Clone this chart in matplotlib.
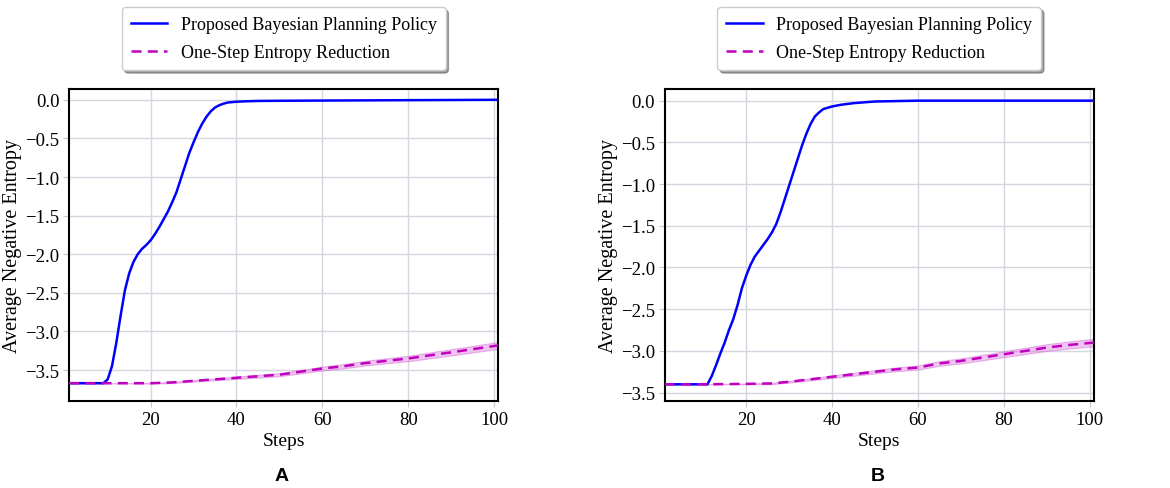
import numpy as np
import matplotlib.pyplot as plt

plt.rcParams['font.family'] = ['Liberation Serif', 'DejaVu Serif']

# Panel A data
a_blue_steps = [1, 9, 10, 11, 12, 13, 14, 15, 16, 17, 18, 19, 20, 21, 22, 23, 24, 25, 26, 27,
                28, 29, 30, 31, 32, 33, 34, 35, 36, 37, 38, 40, 42, 45, 50, 60, 80, 101]
a_blue_vals = [-3.67, -3.67, -3.62, -3.45, -3.15, -2.80, -2.47, -2.25, -2.10, -2.00, -1.93, -1.88,
               -1.82, -1.74, -1.65, -1.55, -1.45, -1.33, -1.20, -1.03, -0.86, -0.69, -0.55, -0.42,
               -0.31, -0.22, -0.15, -0.10, -0.07, -0.05, -0.035, -0.025, -0.02, -0.015, -0.013,
               -0.01, -0.005, 0.0]
a_pink_steps = [1, 10, 20, 25, 30, 35, 40, 45, 50, 55, 60, 65, 70, 75, 80, 85, 90, 95, 101]
a_pink_vals = [-3.67, -3.67, -3.67, -3.66, -3.64, -3.62, -3.60, -3.58, -3.56, -3.52, -3.48,
               -3.45, -3.41, -3.38, -3.35, -3.31, -3.27, -3.23, -3.18]
a_pink_err = [0.0, 0.0, 0.005, 0.008, 0.01, 0.012, 0.015, 0.018, 0.02, 0.022, 0.025, 0.028,
              0.03, 0.032, 0.035, 0.038, 0.04, 0.042, 0.045]

# Panel B data
b_blue_steps = [1, 11, 12, 13, 14, 15, 16, 17, 18, 19, 20, 21, 22, 23, 24, 25, 26, 27, 28, 29,
                30, 31, 32, 33, 34, 35, 36, 37, 38, 40, 42, 45, 50, 60, 101]
b_blue_vals = [-3.40, -3.40, -3.30, -3.17, -3.03, -2.90, -2.75, -2.62, -2.45, -2.25, -2.10,
               -1.97, -1.87, -1.80, -1.73, -1.66, -1.58, -1.48, -1.34, -1.18, -1.02, -0.86,
               -0.70, -0.54, -0.40, -0.28, -0.19, -0.14, -0.10, -0.07, -0.05, -0.03, -0.01,
               0.0, 0.0]
b_pink_steps = [1, 10, 20, 26, 30, 35, 40, 45, 50, 55, 60, 65, 70, 75, 80, 85, 90, 95, 101]
b_pink_vals = [-3.40, -3.40, -3.395, -3.39, -3.37, -3.34, -3.31, -3.28, -3.25, -3.22, -3.20,
               -3.15, -3.12, -3.08, -3.04, -3.00, -2.96, -2.93, -2.90]
b_pink_err = [0.0, 0.0, 0.005, 0.008, 0.01, 0.012, 0.015, 0.018, 0.02, 0.022, 0.025, 0.028,
              0.03, 0.032, 0.035, 0.038, 0.04, 0.042, 0.045]

labels = ['Proposed Bayesian Planning Policy', 'One-Step Entropy Reduction']
panel_names = ['A', 'B']
ylims = [(-3.90, 0.14), (-3.60, 0.14)]
y_ticks = [-3.5, -3.0, -2.5, -2.0, -1.5, -1.0, -0.5, 0.0]
x_ticks = [20, 40, 60, 80, 100]

fig = plt.figure(figsize=(11.7, 4.89), dpi=100)
ax_a = fig.add_axes([0.059, 0.178, 0.367, 0.638])
ax_b = fig.add_axes([0.568, 0.178, 0.367, 0.638])

panels = [
    (ax_a, a_blue_steps, a_blue_vals, a_pink_steps, a_pink_vals, a_pink_err),
    (ax_b, b_blue_steps, b_blue_vals, b_pink_steps, b_pink_vals, b_pink_err),
]

for i, (ax, bs, bv, ps, pv, pe) in enumerate(panels):
    pv = np.array(pv)
    pe = np.array(pe)
    ax.fill_between(ps, pv - pe, pv + pe, color='#e080e0', alpha=0.45,
                    edgecolor='#d060d0', linewidth=0.8, zorder=2)
    ax.plot(bs, bv, color='#0000ff', lw=1.8, label=labels[0], zorder=3)
    ax.plot(ps, pv, color='#bf00bf', lw=1.8, ls='--', dashes=(4, 2.5), label=labels[1], zorder=4)
    ax.set_xlim(1, 101)
    ax.set_ylim(*ylims[i])
    ax.set_xticks(x_ticks)
    ax.set_yticks(y_ticks)
    ax.set_yticklabels([f'{t:.1f}'.replace('-', '\u2212') for t in y_ticks])
    ax.grid(True, color='#d6d6e0', lw=1.0)
    ax.set_axisbelow(True)
    for s in ax.spines.values():
        s.set_linewidth(1.5)
        s.set_color('black')
    ax.tick_params(labelsize=13.5, color='#c8c8d0', length=4, pad=3)
    ax.set_xlabel('Steps', fontsize=14, labelpad=3)
    ax.set_ylabel('Average Negative Entropy', fontsize=14.5, labelpad=2)
    ax.legend(loc='lower center', bbox_to_anchor=(0.5, 1.06), fontsize=13,
              shadow=True, fancybox=True, framealpha=1, edgecolor='#cccccc',
              borderaxespad=0, handlelength=2.0, handletextpad=0.75,
              labelspacing=0.6, borderpad=0.5)

fig.text(0.241, 0.025, panel_names[0], fontsize=14, fontweight='bold',
         family='Liberation Sans', ha='center', va='center')
fig.text(0.750, 0.025, panel_names[1], fontsize=14, fontweight='bold',
         family='Liberation Sans', ha='center', va='center')

fig.savefig('out.png', dpi=100)
